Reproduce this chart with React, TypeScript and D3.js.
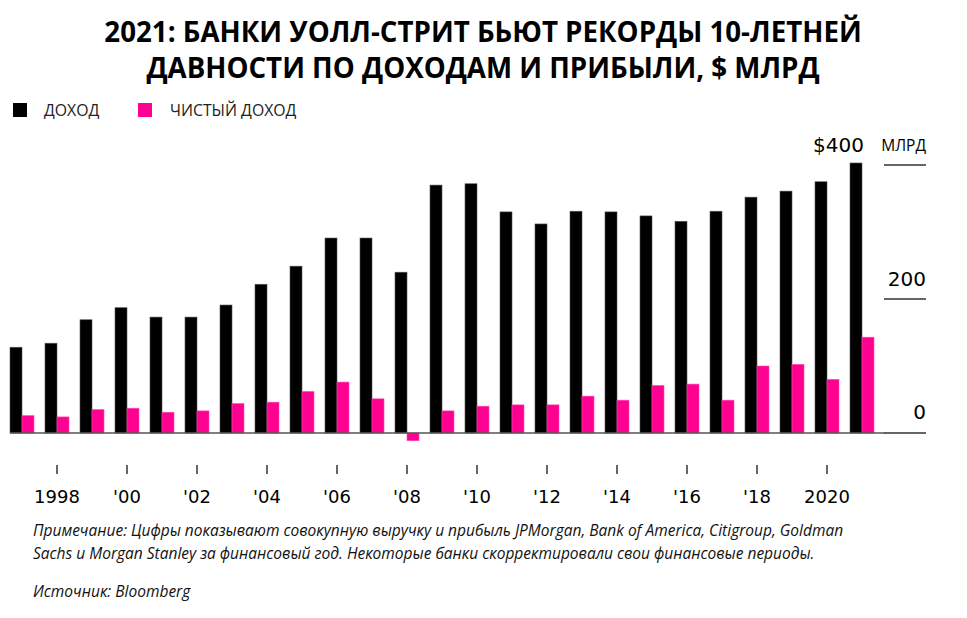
import React, { useMemo } from "react";
import * as d3 from "d3";

const W = 967;
const H = 618;

const YEARS = [
  1997, 1998, 1999, 2000, 2001, 2002, 2003, 2004, 2005, 2006, 2007, 2008, 2009,
  2010, 2011, 2012, 2013, 2014, 2015, 2016, 2017, 2018, 2019, 2020, 2021,
];
const REVENUE = [
  128, 134, 169, 187, 173, 173, 191, 222, 249, 291, 291, 240, 370, 372, 330,
  312, 331, 330, 324, 316, 331, 352, 361, 375, 403,
];
const NET_INCOME = [
  26, 24, 35, 37, 31, 33, 44, 46, 62, 76, 51, -11.5, 33, 40, 42, 42, 55, 49,
  71, 73, 49, 100, 102.5, 80, 143,
];
const X_TICKS = [1998, 2000, 2002, 2004, 2006, 2008, 2010, 2012, 2014, 2016, 2018, 2020];
const Y_TICKS = [0, 200, 400];

const BLACK = "#000000";
const PINK = "#ff0090";

const fmtYear = (y: number) =>
  y === 1998 || y === 2020 ? String(y) : "'" + String(y).slice(2);

const App = () => {
  const x = useMemo(
    () => d3.scaleBand<number>().domain(YEARS).range([10, 874]).paddingInner(11 / 35).paddingOuter(0),
    []
  );
  const y = useMemo(() => d3.scaleLinear().domain([0, 400]).range([433, 165]), []);
  const half = x.bandwidth() / 2;

  return (
    <div style={{ position: "absolute", left: 0, top: 0 }}>
      <svg width={W} height={H} style={{ display: "block", background: "#fff" }}>
        {/* title */}
        <text
          x={483}
          textAnchor="middle"
          fontFamily="'Open Sans', sans-serif"
          fontWeight={700}
          fontSize={27.7}
          fill="#000"
        >
          <tspan x={483} y={42}>2021: БАНКИ УОЛЛ-СТРИТ БЬЮТ РЕКОРДЫ 10-ЛЕТНЕЙ</tspan>
          <tspan x={483} y={78}>ДАВНОСТИ ПО ДОХОДАМ И ПРИБЫЛИ, $ МЛРД</tspan>
        </text>

        {/* legend */}
        <g fontFamily="'Open Sans', sans-serif" fontSize={15.8} fill="#222">
          <rect x={13} y={103} width={14} height={14} fill={BLACK} />
          <text x={44} y={116}>ДОХОД</text>
          <rect x={138} y={103} width={14} height={14} fill={PINK} />
          <text x={170} y={116}>ЧИСТЫЙ ДОХОД</text>
        </g>

        {/* right axis */}
        {Y_TICKS.map((t) => (
          <line key={t} x1={884} x2={926} y1={y(t)} y2={y(t)} stroke="#333" strokeWidth={1.5} />
        ))}
        <g fontFamily="'DejaVu Sans', sans-serif" fontSize={20} fill="#000" textAnchor="end">
          <text x={926} y={y(0) - 14}>0</text>
          <text x={926} y={y(200) - 13}>200</text>
          <text x={864} y={y(400) - 13}>$400</text>
        </g>
        <text
          x={926}
          y={y(400) - 14}
          textAnchor="end"
          fontFamily="'Open Sans', sans-serif"
          fontSize={15.5}
          fill="#000"
        >
          МЛРД
        </text>

        {/* bars */}
        {YEARS.map((yr, i) => {
          const x0 = x(yr) as number;
          const r = REVENUE[i];
          const n = NET_INCOME[i];
          return (
            <g key={yr}>
              <rect
                x={x0}
                width={half}
                y={y(r)}
                height={y(0) - y(r)}
                fill={BLACK}
                stroke="#555"
                strokeWidth={0.6}
              />
              <rect
                x={x0 + half}
                width={half}
                y={Math.min(y(n), y(0))}
                height={Math.abs(y(0) - y(n))}
                fill={PINK}
                stroke="#ff4db0"
                strokeWidth={0.6}
              />
            </g>
          );
        })}

        {/* baseline */}
        <line x1={10} x2={885} y1={y(0)} y2={y(0)} stroke="#555" strokeWidth={1.5} />

        {/* x ticks */}
        <g fontFamily="'DejaVu Sans', sans-serif" fontSize={18} fill="#000" textAnchor="middle">
          {X_TICKS.map((t) => {
            const cx = (x(t) as number) + half;
            return (
              <g key={t}>
                <line x1={cx} x2={cx} y1={465} y2={474} stroke="#333" strokeWidth={1.5} />
                <text x={cx} y={503}>{fmtYear(t)}</text>
              </g>
            );
          })}
        </g>

        {/* notes */}
        <g fontFamily="'Open Sans', sans-serif" fontStyle="italic" fontSize={15.5} fill="#111">
          <text x={33} y={536}>
            Примечание: Цифры показывают совокупную выручку и прибыль JPMorgan, Bank of America, Citigroup, Goldman
          </text>
          <text x={33} y={559}>
            Sachs и Morgan Stanley за финансовый год. Некоторые банки скорректировали свои финансовые периоды.
          </text>
          <text x={33} y={597}>Источник: Bloomberg</text>
        </g>
      </svg>
    </div>
  );
};

export default App;
